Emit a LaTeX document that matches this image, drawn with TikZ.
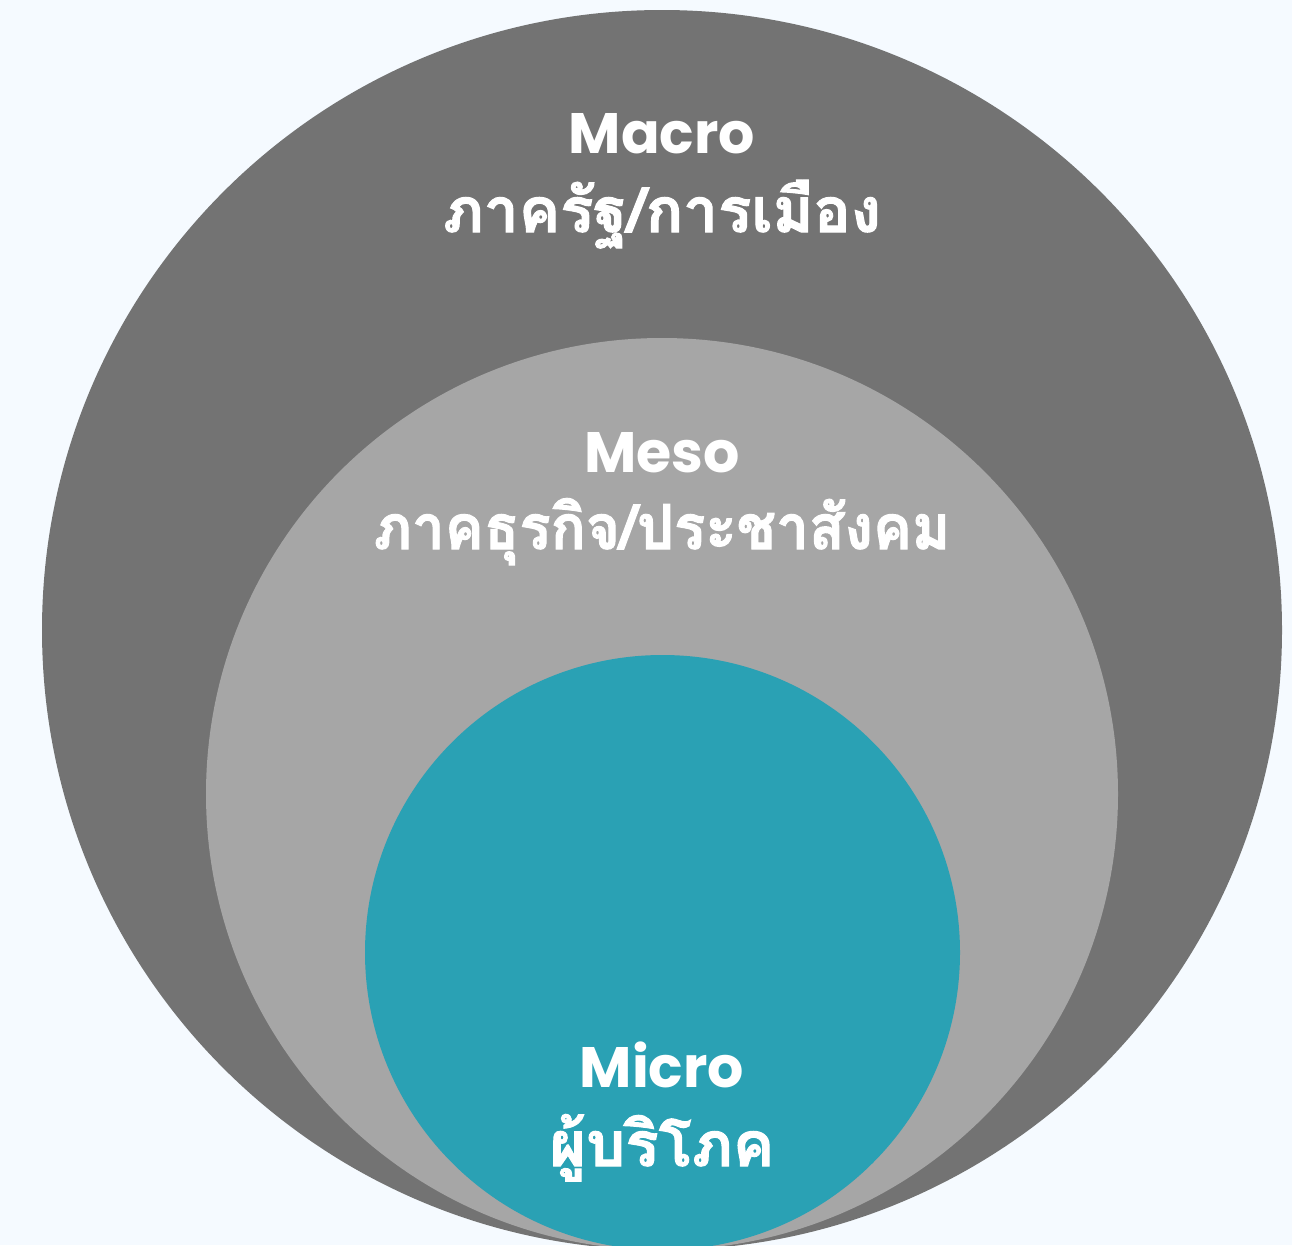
\documentclass[tikz,border=0pt]{standalone}
\usepackage{fontspec}
\usepackage{graphicx}
\newfontfamily\latfont{Poppins}
\newfontfamily\thaifont[Script=Thai, BoldFeatures={FakeBold=1.6}]{Loma}
\definecolor{bgcol}{HTML}{F5FAFF}
\definecolor{outercol}{HTML}{737373}
\definecolor{midcol}{HTML}{A6A6A6}
\definecolor{innercol}{HTML}{2AA1B4}
\tikzset{
  entitle/.style={text=white, anchor=base, inner sep=0pt, font=\latfont\bfseries\fontsize{57}{60}\selectfont},
  thtitle/.style={text=white, anchor=base, inner sep=0pt, font=\thaifont\bfseries\fontsize{62}{66}\selectfont},
}
\begin{document}
\begin{tikzpicture}[x=1pt,y=-1pt]
\useasboundingbox (0,0) rectangle (1292,1245);
\fill[bgcol] (0,0) rectangle (1292,1245);
\begin{scope}
\clip (0,0) rectangle (1292,1245);
\fill[outercol] (662,630) circle[radius=620pt];
\fill[midcol] (662,794) circle[radius=456pt];
\fill[innercol] (662.5,952.5) circle[radius=297.5pt];
\end{scope}
\node[entitle] (macro) at (662,153) {Macro};
\node[thtitle] (macroth) at (662,232) {ภาครัฐ/การเมือง};
\node[entitle] (meso) at (662,472) {Meso};
\node[thtitle] (mesoth) at (662,549) {\scalebox{0.94}[1]{ภาคธุรกิจ/ประชาสังคม}};
\node[entitle] (micro) at (662,1087) {Micro};
\node[thtitle] (microth) at (662,1166) {ผู้บริโภค};
\end{tikzpicture}
\end{document}
